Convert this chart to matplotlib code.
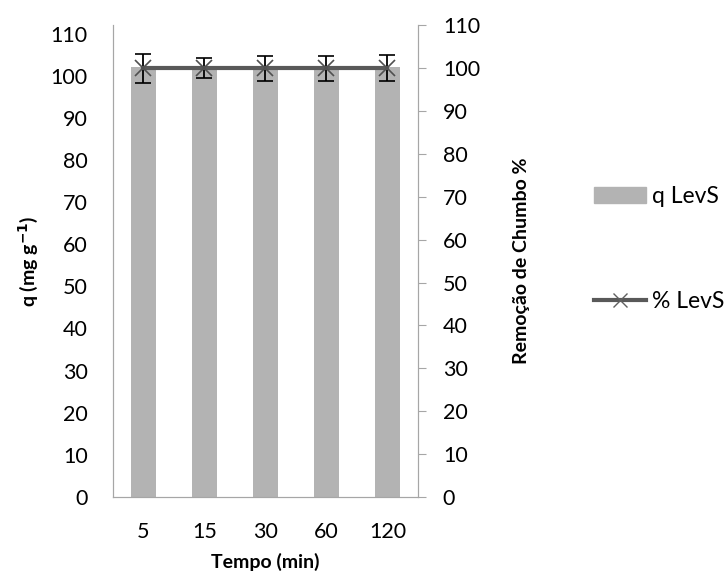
import matplotlib
matplotlib.use("Agg")
import matplotlib.pyplot as plt
from matplotlib.patches import Patch
from matplotlib.lines import Line2D

plt.rcParams['font.family'] = ['Lato', 'DejaVu Sans']

tempos = ['5', '15', '30', '60', '120']
q_levs = [102, 102, 102, 102, 102]
remocao_levs = [100, 100, 100, 100, 100]
remocao_err = [3.4, 2.4, 2.9, 2.9, 3.1]

bar_color = '#b3b3b3'
line_color = '#595959'
spine_color = '#a6a6a6'

fig = plt.figure(figsize=(7.28, 5.86), dpi=100)
ax = fig.add_axes([0.155, 0.152, 0.419, 0.805])
ax2 = ax.twinx()

x = range(len(tempos))
ax.bar(x, q_levs, width=0.4, color=bar_color)
ax2.errorbar(x, remocao_levs, yerr=remocao_err, color=line_color, lw=3,
             marker='x', ms=11, mew=1.2, mec='#505050',
             ecolor='black', elinewidth=1.3, capsize=6, capthick=1.3)

ax.set_xlim(-0.5, 4.5)
ax.set_ylim(0, 112)
ax.set_yticks(range(0, 111, 10))
ax2.set_ylim(0, 110)
ax2.set_yticks(range(0, 111, 10))
ax.set_xticks(list(x))
ax.set_xticklabels(tempos)

for a in (ax, ax2):
    for s in a.spines.values():
        s.set_color(spine_color)
    a.spines['top'].set_visible(False)
ax.tick_params(axis='y', length=0, labelsize=15.5, pad=18)
ax.tick_params(axis='x', length=0, labelsize=15.5, pad=18)
ax2.tick_params(axis='y', length=6, color=spine_color, labelsize=15.5, pad=12)
ax2.tick_params(axis='x', length=0)

ax.set_xlabel('Tempo (min)', fontsize=14, fontweight='bold', labelpad=8)
ax.set_ylabel('q (mg g$^{\\mathbf{-1}}$)', fontsize=14, fontweight='bold', labelpad=8)
ax2.set_ylabel('Remoção de Chumbo %', fontsize=14, fontweight='bold', labelpad=24)

handles = [Patch(color=bar_color),
           Line2D([], [], color=line_color, lw=3, marker='x', ms=10, mew=1.0, mec='#606060')]
fig.legend(handles, ['q LevS', '% LevS'], loc='upper left', bbox_to_anchor=(0.803, 0.698),
           frameon=False, fontsize=16.5, handlelength=2.27, handleheight=0.65,
           handletextpad=0.25, labelspacing=3.65, borderaxespad=0)

fig.savefig('out.png', dpi=100)
